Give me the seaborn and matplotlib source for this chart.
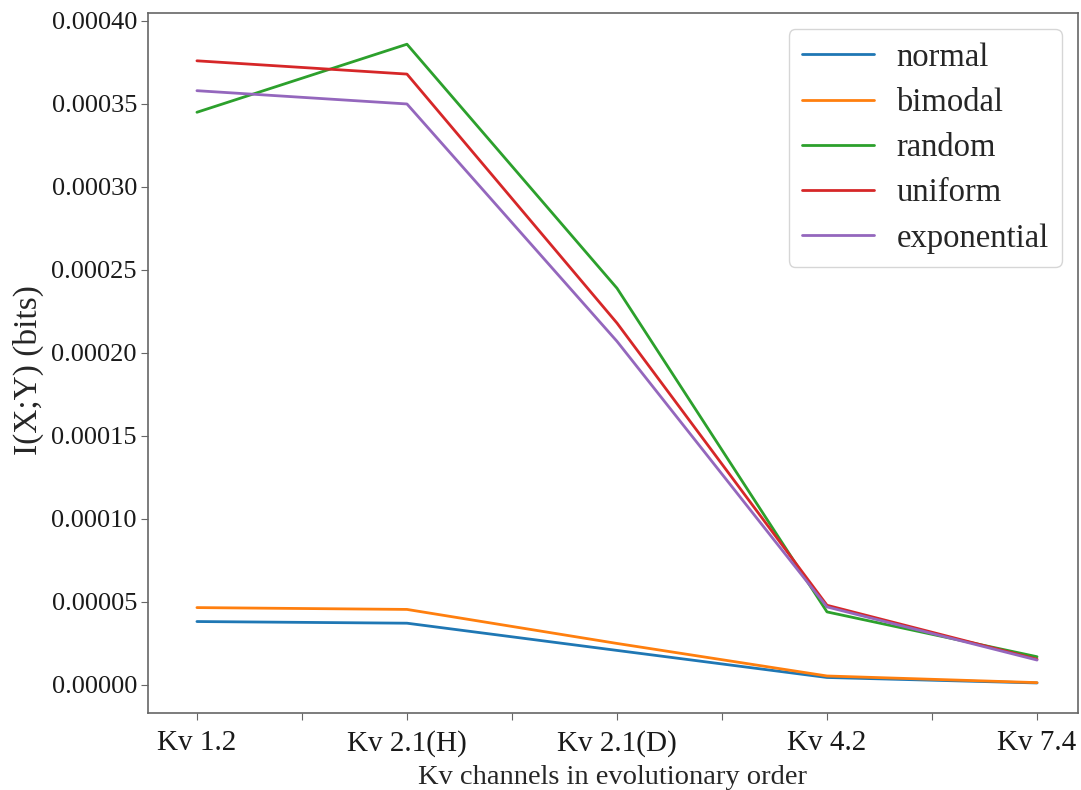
import numpy as np
import pandas as pd
import matplotlib
matplotlib.use("Agg")
import matplotlib.pyplot as plt
import seaborn as sns

categories = ["Kv 1.2", "Kv 2.1(H)", "Kv 2.1(D)", "Kv 4.2", "Kv 7.4"]
series_names = ["normal", "bimodal", "random", "uniform", "exponential"]
normal = [3.82e-5, 3.72e-5, 2.08e-5, 0.45e-5, 0.12e-5]
bimodal = [4.66e-5, 4.55e-5, 2.50e-5, 0.54e-5, 0.14e-5]
random_ = [3.45e-4, 3.86e-4, 2.39e-4, 0.44e-4, 0.17e-4]
uniform = [3.76e-4, 3.68e-4, 2.18e-4, 0.48e-4, 0.155e-4]
exponential = [3.58e-4, 3.50e-4, 2.07e-4, 0.47e-4, 0.15e-4]
values = [normal, bimodal, random_, uniform, exponential]

rows = []
for name, vals in zip(series_names, values):
    for i, v in enumerate(vals):
        rows.append({"x": i, "value": v, "dist": name})
df = pd.DataFrame(rows)

sns.set_style("ticks")
plt.rcParams["font.family"] = ["Liberation Serif", "DejaVu Serif"]

fig = plt.figure(figsize=(10.81, 7.90), dpi=100)
ax = fig.add_axes([148 / 1081, 1 - 713 / 790, (1078 - 148) / 1081, (713 - 13) / 790])
sns.lineplot(data=df, x="x", y="value", hue="dist", hue_order=series_names,
             palette=sns.color_palette("tab10", 5), linewidth=2, ax=ax)

ticks = np.arange(0, 4.01, 0.5)
labels = [categories[int(t)] if float(t).is_integer() else "" for t in ticks]
ax.set_xticks(ticks)
ax.set_xticklabels(labels, fontsize=21)
yt = np.arange(0, 0.000401, 0.00005)
ax.set_yticks(yt)
ax.set_yticklabels([f"{t:.5f}" for t in yt], fontsize=19)
ax.set_xlim(-0.233, 4.195)
ax.set_ylim(-1.69e-5, 0.0004048)
ax.set_xlabel("Kv channels in evolutionary order", fontsize=20.5, labelpad=6)
ax.set_ylabel("I(X;Y) (bits)", fontsize=24)
ax.yaxis.set_label_coords(-0.112, 0.49)
for s in ax.spines.values():
    s.set_color("#666666")
    s.set_linewidth(1.2)
ax.tick_params(colors="#666666", labelcolor="#1a1a1a", length=5, pad=3)
ax.tick_params(axis="x", pad=7)

leg = ax.legend(title=None, fontsize=23.5, loc="upper right", handlelength=2.2,
                handletextpad=0.7, labelspacing=0.45, borderaxespad=0.5)
for line in leg.get_lines():
    line.set_linewidth(2)

fig.savefig("out.png", dpi=100, facecolor="white")
